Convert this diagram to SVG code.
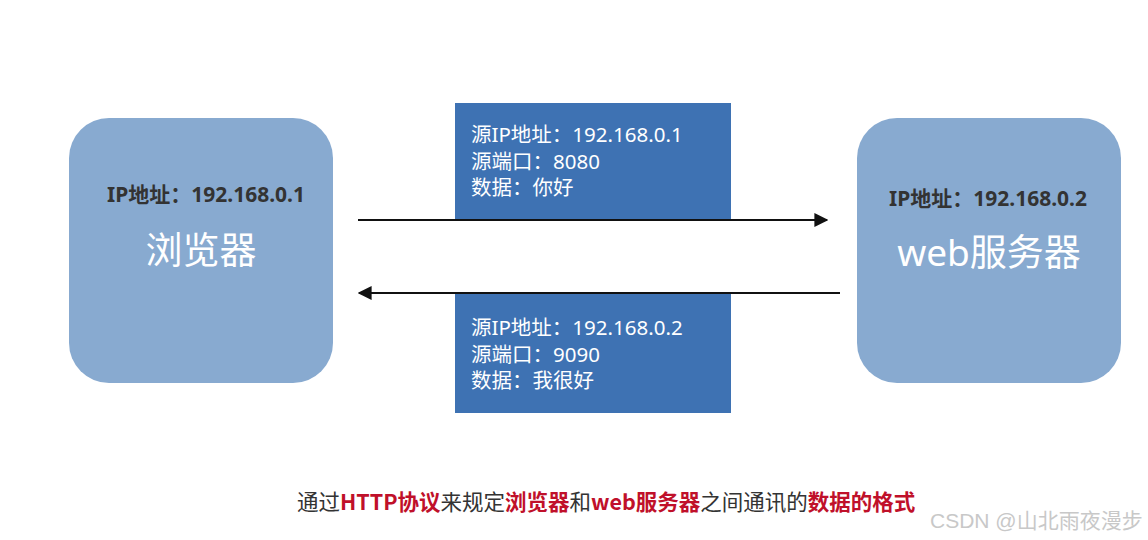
<svg xmlns="http://www.w3.org/2000/svg" width="1148" height="540" viewBox="0 0 1148 540">
<style>
.node{fill:#88AAD0;}
.msg{fill:#3E72B3;}
.ip{font-family:"Noto Sans","Noto Sans CJK SC",sans-serif;font-size:21px;font-weight:bold;fill:#333;text-anchor:middle;}
.title{font-family:"Noto Sans","Noto Sans CJK SC",sans-serif;font-size:37px;fill:#fff;text-anchor:middle;}
.mt{font-family:"Noto Sans","Noto Sans CJK SC",sans-serif;font-size:20.5px;fill:#fff;}
.cap{font-family:"Noto Sans CJK SC",sans-serif;font-size:21.5px;fill:#333;}
.red{fill:#C0102A;font-weight:bold;}
.wm{font-family:"Liberation Sans","Noto Sans CJK SC",sans-serif;font-size:21px;fill:#c8c8c8;}
.conn{stroke:#111;stroke-width:2;fill:none;}
</style>
<defs>
<marker id="ah" viewBox="0 0 10 10" refX="9" refY="5" markerWidth="7" markerHeight="7" orient="auto" markerUnits="strokeWidth">
<path d="M0,0 L10,5 L0,10 z" fill="#111"/>
</marker>
</defs>
<rect width="1148" height="540" fill="#fff"/>
<g id="browser">
<rect class="node" x="69" y="118" width="264" height="265" rx="40"/>
<text class="ip" x="206" y="202">IP地址：192.168.0.1</text>
<text class="title" x="201" y="264">浏览器</text>
</g>
<g id="server">
<rect class="node" x="857" y="118" width="264" height="265" rx="40"/>
<text class="ip" x="988" y="206">IP地址：192.168.0.2</text>
<text class="title" x="989" y="266">web服务器</text>
</g>
<g id="request">
<rect class="msg" x="455" y="103" width="276" height="116"/>
<text class="mt" x="471" y="142">源IP地址：192.168.0.1</text>
<text class="mt" x="471" y="169">源端口：8080</text>
<text class="mt" x="471" y="195">数据：你好</text>
</g>
<g id="response">
<rect class="msg" x="455" y="294" width="276" height="119"/>
<text class="mt" x="471" y="335">源IP地址：192.168.0.2</text>
<text class="mt" x="471" y="362">源端口：9090</text>
<text class="mt" x="471" y="388">数据：我很好</text>
</g>
<g id="connectors">
<line class="conn" x1="358" y1="220" x2="827" y2="220" marker-end="url(#ah)"/>
<line class="conn" x1="840" y1="293" x2="359" y2="293" marker-end="url(#ah)"/>
</g>
<g id="caption">
<text class="cap" x="297" y="510">通过<tspan class="red">HTTP协议</tspan>来规定<tspan class="red">浏览器</tspan>和<tspan class="red">web服务器</tspan>之间通讯的<tspan class="red">数据的格式</tspan></text>
</g>
<text class="wm" x="930" y="528">CSDN @山北雨夜漫步</text>
</svg>
